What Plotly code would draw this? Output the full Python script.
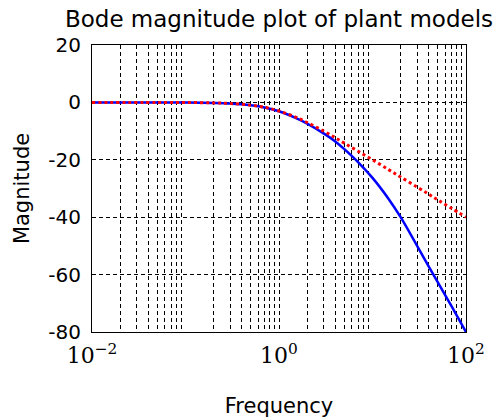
import plotly.graph_objects as go

# Frequency samples (rad/s) and magnitudes (dB) of the two plant models
freq = [0.01, 0.05, 0.1, 0.2, 0.3, 0.5, 0.7, 1, 1.5, 2, 3, 4, 5, 7, 10,
        15, 20, 30, 40, 50, 70, 100]
mag_plant = [0, -0.01, -0.04, -0.17, -0.38, -1.0, -1.75, -3.1, -5.4, -7.4,
             -10.8, -13.6, -16.3, -20.8, -26.3, -33.8, -40.0, -50.0, -57.2,
             -62.7, -71.0, -80.0]
mag_model = [0, -0.01, -0.04, -0.17, -0.37, -0.97, -1.7, -3.0, -5.1, -7.0,
             -10.0, -12.3, -14.2, -17.0, -20.0, -23.5, -26.0, -29.5, -32.0,
             -34.0, -36.9, -40.0]

x_ticks = [0.01, 1, 100]
x_tick_text = ["10<sup>\u22122</sup>", "10<sup>0</sup>", "10<sup>2</sup>"]
x_minor = [m * 10 ** e for e in range(-2, 2) for m in range(2, 10)]
y_ticks = [-80, -60, -40, -20, 0, 20]
y_tick_text = ["-80", "-60", "-40", "-20", "0", "20"]

sans = "DejaVu Sans"
serif = "DejaVu Serif"
grid_dash = "4px,3px"

fig = go.Figure()
fig.add_trace(go.Scatter(x=freq, y=mag_plant, mode="lines",
                         line=dict(color="#0000ff", width=2.5, shape="spline"),
                         showlegend=False))
fig.add_trace(go.Scatter(x=freq, y=mag_model, mode="lines",
                         line=dict(color="#ff0000", width=3, dash="dot",
                                   shape="spline"),
                         showlegend=False))

fig.update_layout(
    width=497, height=419,
    margin=dict(l=92, r=31, t=45, b=87),
    paper_bgcolor="white", plot_bgcolor="white",
    title=dict(text="Bode magnitude plot of plant models", x=0.5,
               xref="paper", xanchor="center", yref="container",
               y=0.955, yanchor="middle",
               font=dict(family=sans, size=23, color="black")),
    xaxis=dict(type="log", range=[-2, 2], automargin=False,
               tickmode="array", tickvals=x_ticks, ticktext=x_tick_text,
               tickfont=dict(family=serif, size=22, color="black"),
               ticklabelstandoff=4,
               showgrid=True, gridcolor="black", griddash=grid_dash,
               gridwidth=1,
               minor=dict(tickmode="array", tickvals=x_minor, showgrid=True,
                          gridcolor="black", griddash=grid_dash, gridwidth=1),
               showline=True, linecolor="black", linewidth=1, mirror=True,
               ticks="", zeroline=False,
               title=dict(text="Frequency", standoff=30,
                          font=dict(family=sans, size=21, color="black"))),
    yaxis=dict(range=[-80, 20], automargin=False,
               tickmode="array", tickvals=y_ticks, ticktext=y_tick_text,
               tickfont=dict(family=sans, size=20, color="black"),
               ticklabelstandoff=6,
               showgrid=True, gridcolor="black", griddash=grid_dash,
               gridwidth=1,
               showline=True, linecolor="black", linewidth=1, mirror=True,
               ticks="", zeroline=False,
               title=dict(text="Magnitude", standoff=12,
                          font=dict(family=sans, size=21, color="black"))),
)

fig.write_html("out.html")
